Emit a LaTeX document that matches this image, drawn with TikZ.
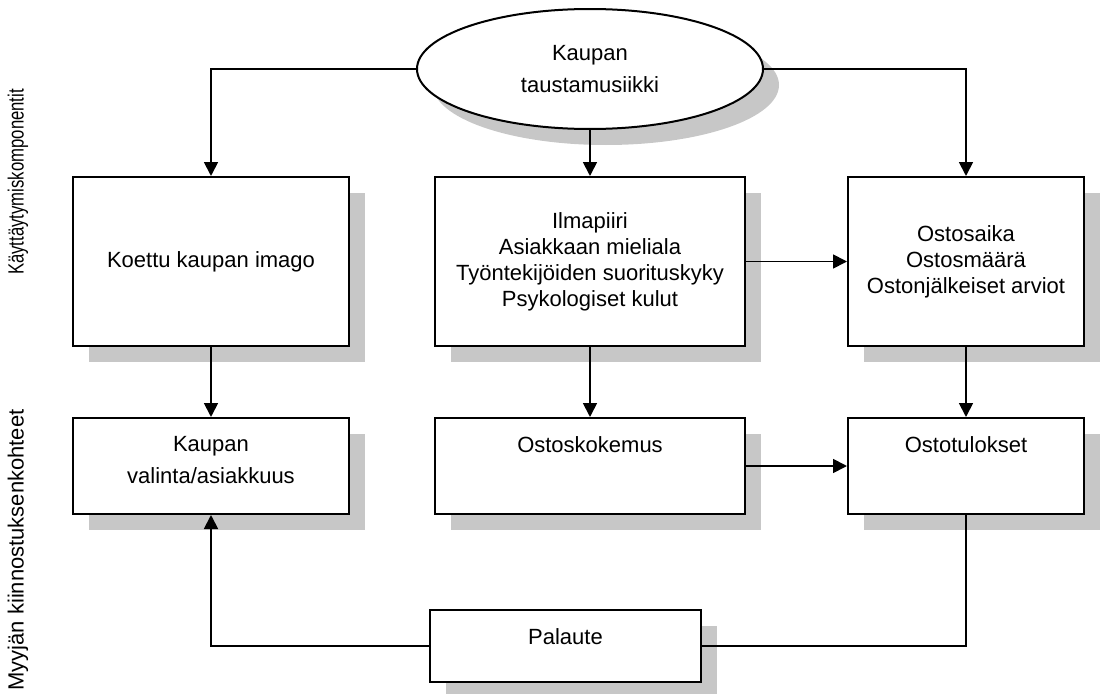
\documentclass[tikz,border=0pt]{standalone}
\usepackage{fontspec}
\setmainfont{Liberation Sans}
\usetikzlibrary{positioning,arrows.meta,shapes.geometric,shadows}

\begin{document}
\begin{tikzpicture}[
  x=0.5pt, y=0.5pt,
  every node/.style={font=\fontsize{11}{13}\selectfont},
  box/.style={draw, fill=white, line width=1pt, inner sep=0pt,
    drop shadow={shadow xshift=8pt, shadow yshift=-8pt, fill=black!22, opacity=1}},
  oval/.style={box, ellipse, minimum width=173pt, minimum height=60pt},
  intext/.style={anchor=north, align=center, inner sep=0pt, yshift=-9.5pt},
  side/.style={rotate=90},
  link/.style={line width=0.9pt, -{Triangle[length=7pt, width=7pt]}}
]
\useasboundingbox (0,0) rectangle (1100,693);

% source
\node[oval, align=center, font=\fontsize{11}{16}\selectfont] (music) at (590,624) {Kaupan\\taustamusiikki};

% behaviour components
\node[box, align=center, minimum width=138pt, minimum height=84.5pt] (image) at (211,431.5) {Koettu kaupan imago};
\node[box, align=center, minimum width=155pt, minimum height=84.5pt] (mood) at (590,431.5) {Ilmapiiri\\Asiakkaan mieliala\\Työntekijöiden suorituskyky\\Psykologiset kulut};
\node[box, align=center, minimum width=118pt, minimum height=84.5pt] (outcome) at (966,431.5) {Ostosaika\\Ostosmäärä\\Ostonjälkeiset arviot};

% retailer interests
\node[box, minimum width=138pt, minimum height=48pt,
  label={[intext, font=\fontsize{11}{16}\selectfont]north:Kaupan\\valinta/asiakkuus}] (choice) at (211,227) {};
\node[box, minimum width=155pt, minimum height=48pt, label={[intext]north:Ostoskokemus}] (experience) at (590,227) {};
\node[box, minimum width=118pt, minimum height=48pt, label={[intext]north:Ostotulokset}] (results) at (966,227) {};
\node[box, minimum width=135.5pt, minimum height=36pt, label={[intext]north:Palaute}] (feedback) at (565.5,47) {};

% side titles
\node[side] (behaviour) at (18,511) {\scalebox{0.76}[1]{Käyttäytymiskomponentit}};
\node[side] (retail) at (18,143) {Myyjän kiinnostuksenkohteet};

% connectors
\draw[link] (music.west) -| (image.north);
\draw[link] (music.east) -| (outcome.north);
\draw[link] (music.south) -- (mood.north);
\draw[link] (mood.east) -- (outcome.west);
\draw[link] (image.south) -- (choice.north);
\draw[link] (mood.south) -- (experience.north);
\draw[link] (outcome.south) -- (results.north);
\draw[link] (experience.east) -- (results.west);
\draw[line width=0.9pt] (results.south) |- (feedback.east);
\draw[link] (feedback.west) -| (choice.south);
\end{tikzpicture}
\end{document}
